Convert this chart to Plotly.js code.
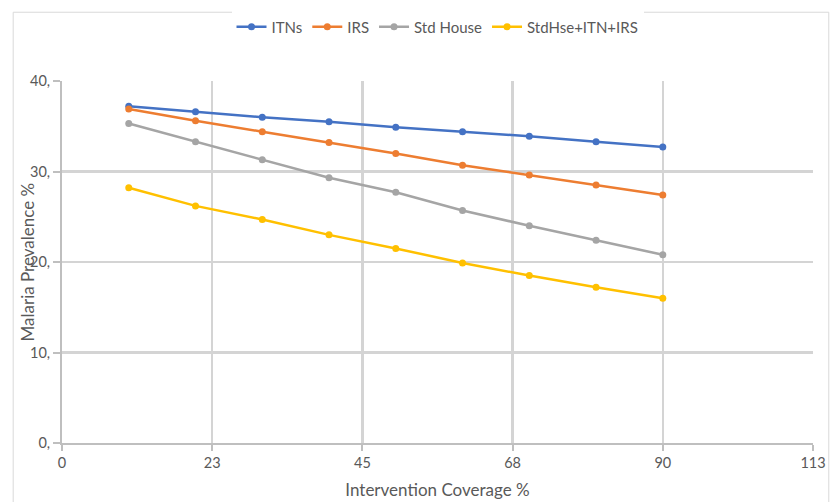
<!DOCTYPE html>
<html>
<head>
<meta charset="utf-8">
<script src="https://cdn.plot.ly/plotly-3.0.1.min.js"></script>
<style>html,body{margin:0;padding:0;background:#fff;}#chart{width:832px;height:502px;}</style>
</head>
<body>
<div id="chart"></div>
<script>
const coverage = [10, 20, 30, 40, 50, 60, 70, 80, 90];
const itns = [37.2, 36.6, 36.0, 35.5, 34.9, 34.4, 33.9, 33.3, 32.7];
const irs = [36.9, 35.6, 34.4, 33.2, 32.0, 30.7, 29.6, 28.5, 27.4];
const stdHouse = [35.3, 33.3, 31.3, 29.3, 27.7, 25.7, 24.0, 22.4, 20.8];
const combined = [28.2, 26.2, 24.7, 23.0, 21.5, 19.9, 18.5, 17.2, 16.0];
const seriesNames = ["ITNs", "IRS", "Std House", "StdHse+ITN+IRS"];
const xTickVals = [0, 22.5, 45, 67.5, 90, 112.5];
const xTickText = ["0", "23", "45", "68", "90", "113"];
const yTickVals = [0, 10, 20, 30, 40];
const yTickText = ["0,", "10,", "20,", "30,", "40,"];
const colors = ["#4472C4", "#ED7D31", "#A5A5A5", "#FFC000"];

const allSeries = [itns, irs, stdHouse, combined];
const traces = allSeries.map((ys, i) => ({
  x: coverage, y: ys, name: seriesNames[i], type: "scatter", mode: "lines+markers",
  line: {color: colors[i], width: 2.5}, marker: {color: colors[i], size: 7}
}));

const FONT = "Lato, 'Open Sans', sans-serif";
const tickFont = {family: FONT, size: 14.5, color: "#595959"};
const layout = {
  width: 832, height: 502,
  margin: {l: 62, r: 19, t: 80, b: 59},
  paper_bgcolor: "#fff", plot_bgcolor: "#fff",
  showlegend: true,
  legend: {orientation: "h", x: 0.5, xanchor: "center", y: 1.146, yanchor: "middle",
    font: {family: FONT, size: 15, color: "#595959"}, tracegroupgap: 0},
  xaxis: {
    range: [0, 112.5], tickvals: xTickVals, ticktext: xTickText,
    showgrid: true, gridcolor: "#d4d4d4", gridwidth: 2.5,
    showline: true, linecolor: "#bfbfbf", linewidth: 2,
    ticks: "outside", ticklen: 6, tickcolor: "#bfbfbf", tickwidth: 2,
    tickfont: tickFont, zeroline: false,
    title: {text: "Intervention Coverage %", font: {family: FONT, size: 17, color: "#595959"}, standoff: 14}
  },
  yaxis: {
    range: [0, 40], tickvals: yTickVals, ticktext: yTickText,
    showgrid: true, gridcolor: "#d4d4d4", gridwidth: 2.5,
    showline: true, linecolor: "#bfbfbf", linewidth: 2,
    ticks: "outside", ticklen: 7, tickcolor: "#bfbfbf", tickwidth: 2,
    tickfont: tickFont, zeroline: false
  },
  annotations: [{text: "Malaria Prevalence %", xref: "paper", yref: "paper",
    x: -0.046, y: 0.5, xanchor: "center", yanchor: "middle", textangle: -90, showarrow: false,
    font: {family: FONT, size: 17, color: "#595959"}}],
  shapes: [{type: "rect", xref: "paper", yref: "paper", x0: -0.065, x1: 1.021, y0: -0.3, y1: 1.19,
    line: {color: "#d9d9d9", width: 1}, fillcolor: "rgba(0,0,0,0)", layer: "below"}]
};
Plotly.newPlot("chart", traces, layout, {displayModeBar: false, staticPlot: true});
</script>
</body>
</html>
